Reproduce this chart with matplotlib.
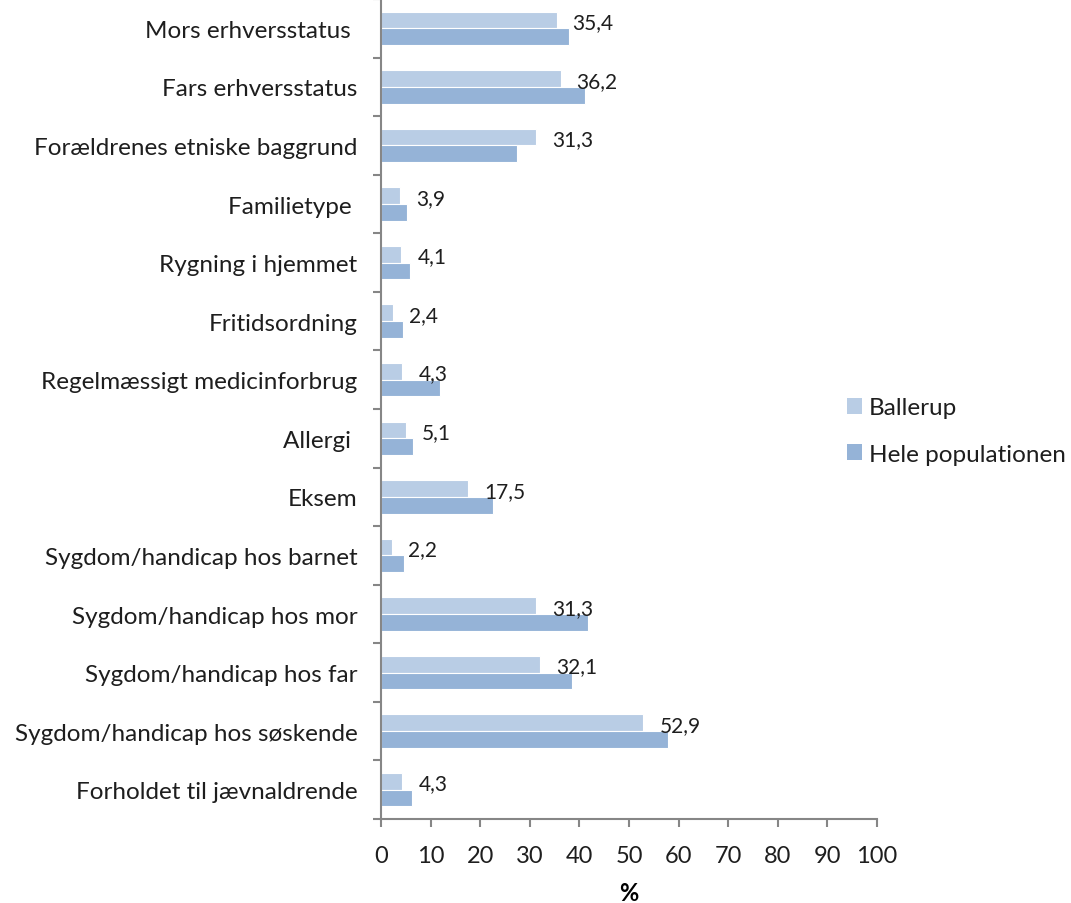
"""Horizontal bar chart: Ballerup vs. hele populationen per baggrundsfaktor."""
import matplotlib
matplotlib.use("Agg")
import matplotlib.pyplot as plt
import matplotlib.patches as patches
import numpy as np

categories = ["Mors erhversstatus ", "Fars erhversstatus", "Forældrenes etniske baggrund",
              "Familietype ", "Rygning i hjemmet", "Fritidsordning",
              "Regelmæssigt medicinforbrug", "Allergi ", "Eksem",
              "Sygdom/handicap hos barnet", "Sygdom/handicap hos mor",
              "Sygdom/handicap hos far", "Sygdom/handicap hos søskende",
              "Forholdet til jævnaldrende"]
ballerup = [35.4, 36.2, 31.3, 3.9, 4.1, 2.4, 4.3, 5.1, 17.5, 2.2, 31.3, 32.1, 52.9, 4.3]
hele = [38.0, 41.2, 27.5, 5.2, 5.9, 4.5, 11.8, 6.4, 22.6, 4.6, 41.8, 38.5, 57.8, 6.3]
series_names = ["Ballerup", "Hele populationen"]
x_ticks = list(range(0, 101, 10))

light = "#b9cde5"
dark = "#95b3d7"
axis_gray = "#868686"
text_color = "#1e1e1e"

plt.rcParams["font.family"] = ["Lato", "DejaVu Sans"]
plt.rcParams["text.color"] = text_color

fig = plt.figure(figsize=(10.71, 9.04), dpi=100)
ax = fig.add_axes([381 / 1071, 84 / 904, 496 / 1071, 820 / 904])

y = np.arange(len(categories))
h = 0.285
ax.barh(y - h / 2, ballerup, height=h, color=light, edgecolor="white", linewidth=0.8)
ax.barh(y + h / 2, hele, height=h, color=dark, edgecolor="white", linewidth=0.8)

# value labels only for Ballerup
for yi, val in zip(y, ballerup):
    ax.annotate(f"{val:.1f}".replace(".", ","), xy=(val, yi - h / 2), xytext=(11.5, -1.5),
                textcoords="offset points", va="center", ha="left", fontsize=15, color=text_color)

ax.set_xlim(0, 100)
ax.set_ylim(len(categories) - 0.5, -0.5)
ax.set_xticks(x_ticks)
ax.set_xticklabels([str(t) for t in x_ticks])
ax.set_yticks(y)
ax.set_yticklabels(categories)
ax.set_yticks(np.arange(len(categories) + 1) - 0.5, minor=True)

for side in ["top", "right"]:
    ax.spines[side].set_visible(False)
for side in ["left", "bottom"]:
    ax.spines[side].set_color(axis_gray)
    ax.spines[side].set_linewidth(1.5)

ax.tick_params(axis="y", which="major", length=0, pad=17, labelsize=17.5, labelcolor=text_color)
ax.tick_params(axis="y", which="minor", length=5.5, width=1.5, color=axis_gray, direction="out")
ax.tick_params(axis="x", which="major", length=5.5, width=1.5, color=axis_gray, direction="out",
               pad=13, labelsize=17, labelcolor=text_color)

ax.set_xlabel("%", fontsize=17, fontweight="bold", labelpad=11)

handles = [patches.Rectangle((0, 0), 1, 1, facecolor=c, edgecolor="none") for c in [light, dark]]
fig.legend(handles, series_names, loc="center left", bbox_to_anchor=(847 / 1071, 1 - 432 / 904),
           frameon=False, fontsize=17.5, handlelength=0.62, handleheight=0.62, handletextpad=0.28,
           labelspacing=1.05, borderpad=0, borderaxespad=0)

fig.savefig("out.png", dpi=100)
